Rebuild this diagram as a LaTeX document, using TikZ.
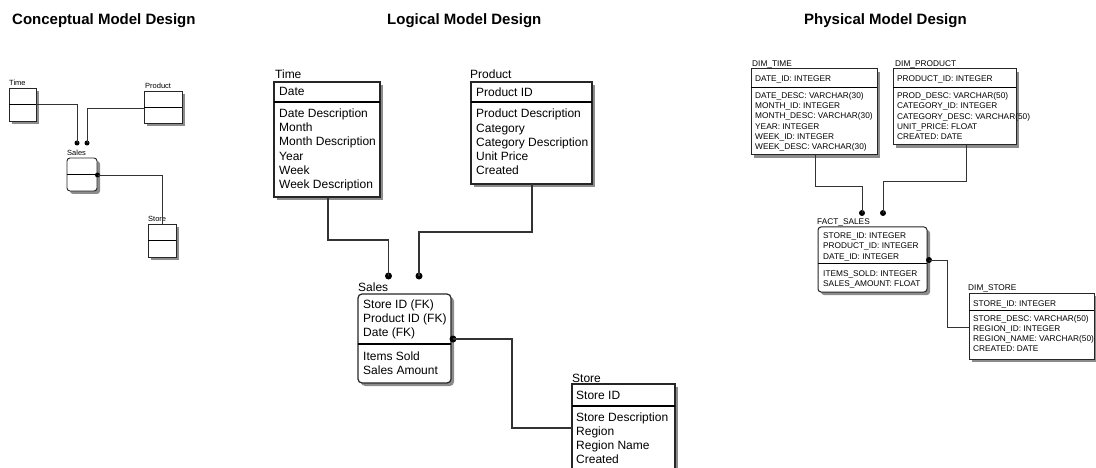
\documentclass[tikz,border=0pt]{standalone}
\usepackage{fontspec}
\setmainfont{Liberation Sans}
\usetikzlibrary{shadows}
\begin{document}
\tikzset{
 ent/.style={draw=black!85, fill=white, inner sep=0pt, outer sep=0pt, anchor=north west,
   drop shadow={shadow xshift=3pt, shadow yshift=-3pt, fill=black!45, opacity=1}},
 ctext/.style={font=\fontsize{7.5}{8}\selectfont, inner sep=0pt, anchor=base west},
 ltext/.style={font=\fontsize{12}{14}\selectfont, inner sep=0pt, anchor=base west},
 ptext/.style={font=\fontsize{8.3}{9}\selectfont, inner sep=0pt, anchor=base west},
 ttl/.style={font=\fontsize{15}{17}\selectfont\bfseries, inner sep=0pt, anchor=base west},
 link/.style={draw=black!80, line width=1.1pt},
 bdot/.style={circle, fill=black, inner sep=0pt},
}
\begin{tikzpicture}[x=1pt,y=-1pt]
\useasboundingbox (0,0) rectangle (1096,468);
\clip (0,0) rectangle (1096,468);
% titles
\node[ttl] (t1) at (12,25) {Conceptual Model Design};
\node[ttl] (t2) at (387,25) {Logical Model Design};
\node[ttl] (t3) at (804,25) {Physical Model Design};

% ---------------- conceptual ----------------
\node[ent, line width=0.9pt, minimum width=27pt, minimum height=33pt] (cTime) at (9,88) {};
\draw[line width=0.9pt] (cTime.west |- 0,104) -- (cTime.east |- 0,104);
\node[ctext] (cTimeL) at (9,86) {Time};
\node[ent, line width=0.9pt, minimum width=38pt, minimum height=32pt] (cProd) at (144,91) {};
\draw[line width=0.9pt] (cProd.west |- 0,107) -- (cProd.east |- 0,107);
\node[ctext] (cProdL) at (145,89) {Product};
\node[ent, line width=0.9pt, rounded corners=3pt, minimum width=30pt, minimum height=33pt] (cSales) at (67,158) {};
\draw[line width=0.9pt] (cSales.west |- 0,174) -- (cSales.east |- 0,174);
\node[ctext] (cSalesL) at (67,156) {Sales};
\node[ent, line width=0.9pt, minimum width=28pt, minimum height=33pt] (cStore) at (148,224) {};
\draw[line width=0.9pt] (cStore.west |- 0,240) -- (cStore.east |- 0,240);
\node[ctext] (cStoreL) at (148,222) {Store};
\node[bdot, minimum size=5pt] (cd1) at (77,143) {};
\node[bdot, minimum size=5pt] (cd2) at (87,143) {};
\node[bdot, minimum size=5pt] (cd3) at (97.5,175) {};
\draw[link, line width=0.9pt] (cTime.east |- 0,104) -| (cd1.center);
\draw[link, line width=0.9pt] (cProd.west |- 0,108) -| (cd2.center);
\draw[link, line width=0.9pt] (cd3.center) -| (cStore.north);

% ---------------- logical ----------------
\node[ent, line width=1.2pt, minimum width=106pt, minimum height=115pt] (lTime) at (274,82) {};
\draw[line width=1.2pt] (lTime.west |- 0,102) -- (lTime.east |- 0,102);
\node[ltext] (lTimeL) at (275,79) {Time};
\node[ltext] (lTimeH) at (279,96) {Date};
\foreach \t [count=\i] in {Date Description, Month, Month Description, Year, Week, Week Description}
  \node[ltext] (lTime-\i) at (279,{117.5+14.2*(\i-1)}) {\t};

\node[ent, line width=1.2pt, minimum width=121pt, minimum height=102pt] (lProd) at (471,82) {};
\draw[line width=1.2pt] (lProd.west |- 0,102) -- (lProd.east |- 0,102);
\node[ltext] (lProdL) at (470,79) {Product};
\node[ltext] (lProdH) at (476,97) {Product ID};
\foreach \t [count=\i] in {Product Description, Category, Category Description, Unit Price, Created}
  \node[ltext] (lProd-\i) at (476,{118+14.2*(\i-1)}) {\t};

\node[ent, line width=1.2pt, rounded corners=4pt, minimum width=93pt, minimum height=89pt] (lSales) at (358,294) {};
\draw[line width=1.2pt] (lSales.west |- 0,344) -- (lSales.east |- 0,344);
\node[ltext] (lSalesL) at (358,291) {Sales};
\foreach \t [count=\i] in {Store ID (FK), Product ID (FK), Date (FK)}
  \node[ltext] (lSalesK-\i) at (363,{308+14.3*(\i-1)}) {\t};
\foreach \t [count=\i] in {Items Sold, Sales Amount}
  \node[ltext] (lSalesA-\i) at (363,{360+14.3*(\i-1)}) {\t};

\node[ent, line width=1.2pt, minimum width=103pt, minimum height=95pt] (lStore) at (572,384) {};
\draw[line width=1.2pt] (lStore.west |- 0,406) -- (lStore.east |- 0,406);
\node[ltext] (lStoreL) at (572,382) {Store};
\node[ltext] (lStoreH) at (576,399) {Store ID};
\foreach \t [count=\i] in {Store Description, Region, Region Name, Created}
  \node[ltext] (lStore-\i) at (576,{421+14*(\i-1)}) {\t};

\node[bdot, minimum size=7pt] (ld1) at (388.5,276) {};
\node[bdot, minimum size=7pt] (ld2) at (419,276) {};
\node[bdot, minimum size=7pt] (ld3) at (453,339) {};
\draw[link] (lTime.south -| 328,0) |- (ld1 |- 0,240) -- (ld1.center);
\draw[link] (lProd.south -| 532,0) |- (ld2 |- 0,232) -- (ld2.center);
\draw[link] (ld3.center) -| (512,428) -- (lStore.west |- 0,428);

% ---------------- physical ----------------
\node[ent, line width=1pt, minimum width=126pt, minimum height=86pt] (pTime) at (751,69) {};
\draw[line width=1pt] (pTime.west |- 0,88) -- (pTime.east |- 0,88);
\node[ptext] (pTimeL) at (752,66.5) {DIM\_TIME};
\node[ptext] (pTimeH) at (755,81.5) {DATE\_ID: INTEGER};
\foreach \t [count=\i] in {DATE\_DESC: VARCHAR(30), MONTH\_ID: INTEGER, MONTH\_DESC: VARCHAR(30), YEAR: INTEGER, WEEK\_ID: INTEGER, WEEK\_DESC: VARCHAR(30)}
  \node[ptext] (pTime-\i) at (755,{98.5+10.2*(\i-1)}) {\t};

\node[ent, line width=1pt, minimum width=123pt, minimum height=76pt] (pProd) at (893,69) {};
\draw[line width=1pt] (pProd.west |- 0,88) -- (pProd.east |- 0,88);
\node[ptext] (pProdL) at (895,66.5) {DIM\_PRODUCT};
\node[ptext] (pProdH) at (897,81.5) {PRODUCT\_ID: INTEGER};
\foreach \t [count=\i] in {PROD\_DESC: VARCHAR(50), CATEGORY\_ID: INTEGER, CATEGORY\_DESC: VARCHAR(50), UNIT\_PRICE: FLOAT, CREATED: DATE}
  \node[ptext] (pProd-\i) at (897,{98.5+10.3*(\i-1)}) {\t};

\node[ent, line width=1pt, rounded corners=3pt, minimum width=109pt, minimum height=65pt] (pSales) at (818,227) {};
\draw[line width=1pt] (pSales.west |- 0,263) -- (pSales.east |- 0,263);
\node[ptext] (pSalesL) at (817,225) {FACT\_SALES};
\foreach \t [count=\i] in {STORE\_ID: INTEGER, PRODUCT\_ID: INTEGER, DATE\_ID: INTEGER}
  \node[ptext] (pSalesK-\i) at (823,{238.5+10.4*(\i-1)}) {\t};
\foreach \t [count=\i] in {ITEMS\_SOLD: INTEGER, SALES\_AMOUNT: FLOAT}
  \node[ptext] (pSalesA-\i) at (823,{276.5+10.2*(\i-1)}) {\t};

\node[ent, line width=1pt, minimum width=125pt, minimum height=66pt] (pStore) at (969,293) {};
\draw[line width=1pt] (pStore.west |- 0,310) -- (pStore.east |- 0,310);
\node[ptext] (pStoreL) at (968,290.5) {DIM\_STORE};
\node[ptext] (pStoreH) at (973,306) {STORE\_ID: INTEGER};
\foreach \t [count=\i] in {STORE\_DESC: VARCHAR(50), REGION\_ID: INTEGER, REGION\_NAME: VARCHAR(50), CREATED: DATE}
  \node[ptext] (pStore-\i) at (973,{321.5+10*(\i-1)}) {\t};

\node[bdot, minimum size=6pt] (pd1) at (862,213) {};
\node[bdot, minimum size=6pt] (pd2) at (883,213) {};
\node[bdot, minimum size=6pt] (pd3) at (929,260) {};
\draw[link, line width=1pt] (pTime.south -| 815,0) |- (pd1 |- 0,187) -- (pd1.center);
\draw[link, line width=1pt] (pProd.south -| 966,0) |- (pd2 |- 0,182) -- (pd2.center);
\draw[link, line width=1pt] (pd3.center) -| (947,327) -- (pStore.west |- 0,327);
\end{tikzpicture}
\end{document}
